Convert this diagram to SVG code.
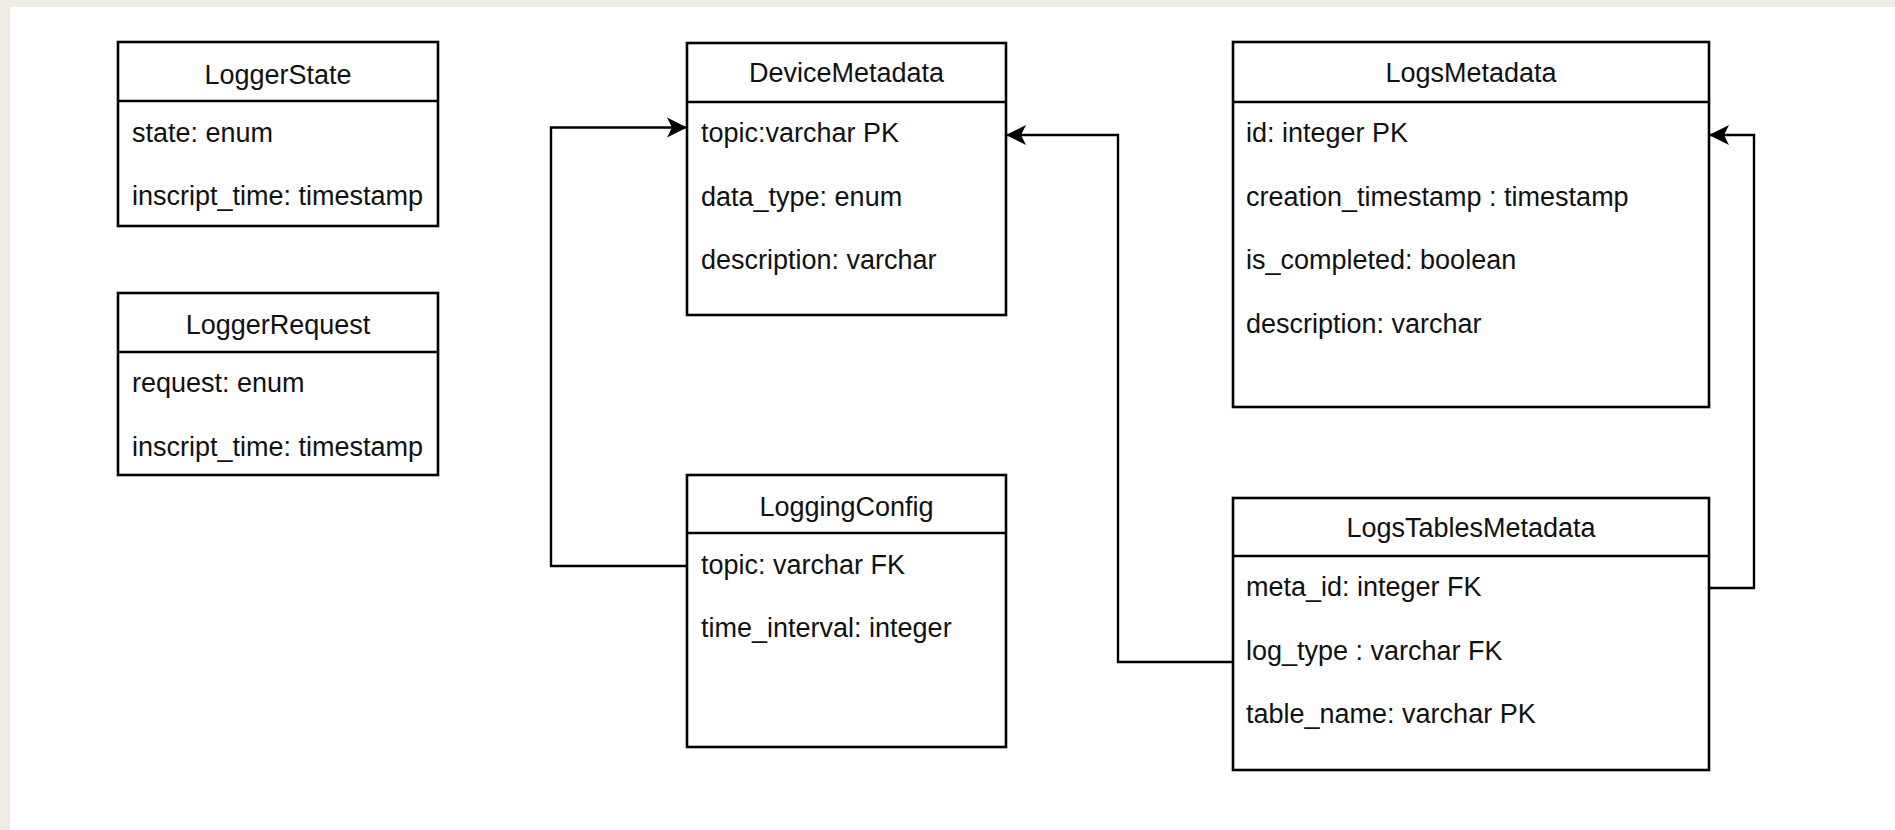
<svg xmlns="http://www.w3.org/2000/svg" width="1895" height="830" viewBox="0 0 1895 830">
  <style>
    .box { fill: #ffffff; stroke: #000000; stroke-width: 2.6; }
    .sep { stroke: #000000; stroke-width: 2.6; }
    .title { font-family: "Liberation Sans", Arial, sans-serif; font-size: 27px; fill: #111111; text-anchor: middle; }
    .row { font-family: "Liberation Sans", Arial, sans-serif; font-size: 27px; fill: #111111; }
    .conn { fill: none; stroke: #000000; stroke-width: 2.4; }
  </style>
  <defs>
    <marker id="arrow" markerUnits="userSpaceOnUse" viewBox="0 0 22 22" refX="21" refY="11" markerWidth="22" markerHeight="22" orient="auto">
      <path d="M21,11 L1,1 L6,11 L1,21 Z" fill="#000000"/>
    </marker>
  </defs>

  <rect x="0" y="0" width="1895" height="830" fill="#efece4"/>
  <rect x="10" y="7" width="1885" height="823" fill="#ffffff"/>

  <g id="connectors">
    <path class="conn" d="M687,566 H551 V127.5 H687" marker-end="url(#arrow)"/>
    <path class="conn" d="M1233,662 H1118 V135 H1006" marker-end="url(#arrow)"/>
    <path class="conn" d="M1709,588 H1754 V135 H1709" marker-end="url(#arrow)"/>
  </g>

  <g id="LoggerState">
    <rect class="box" x="118" y="42" width="320" height="184"/>
    <line class="sep" x1="118" y1="101" x2="438" y2="101"/>
    <text class="title" x="278" y="84">LoggerState</text>
    <text class="row" x="132" y="142">state: enum</text>
    <text class="row" x="132" y="205">inscript_time: timestamp</text>
  </g>

  <g id="LoggerRequest">
    <rect class="box" x="118" y="293" width="320" height="182"/>
    <line class="sep" x1="118" y1="352" x2="438" y2="352"/>
    <text class="title" x="278" y="334">LoggerRequest</text>
    <text class="row" x="132" y="392">request: enum</text>
    <text class="row" x="132" y="456">inscript_time: timestamp</text>
  </g>

  <g id="DeviceMetadata">
    <rect class="box" x="687" y="43" width="319" height="272"/>
    <line class="sep" x1="687" y1="102" x2="1006" y2="102"/>
    <text class="title" x="846.5" y="82">DeviceMetadata</text>
    <text class="row" x="701" y="142">topic:varchar PK</text>
    <text class="row" x="701" y="206">data_type: enum</text>
    <text class="row" x="701" y="269">description: varchar</text>
  </g>

  <g id="LoggingConfig">
    <rect class="box" x="687" y="475" width="319" height="272"/>
    <line class="sep" x1="687" y1="533" x2="1006" y2="533"/>
    <text class="title" x="846.5" y="516">LoggingConfig</text>
    <text class="row" x="701" y="574">topic: varchar FK</text>
    <text class="row" x="701" y="637">time_interval: integer</text>
  </g>

  <g id="LogsMetadata">
    <rect class="box" x="1233" y="42" width="476" height="365"/>
    <line class="sep" x1="1233" y1="102" x2="1709" y2="102"/>
    <text class="title" x="1471" y="82">LogsMetadata</text>
    <text class="row" x="1246" y="142">id: integer PK</text>
    <text class="row" x="1246" y="206">creation_timestamp : timestamp</text>
    <text class="row" x="1246" y="269">is_completed: boolean</text>
    <text class="row" x="1246" y="333">description: varchar</text>
  </g>

  <g id="LogsTablesMetadata">
    <rect class="box" x="1233" y="498" width="476" height="272"/>
    <line class="sep" x1="1233" y1="556" x2="1709" y2="556"/>
    <text class="title" x="1471" y="537">LogsTablesMetadata</text>
    <text class="row" x="1246" y="596">meta_id: integer FK</text>
    <text class="row" x="1246" y="660">log_type : varchar FK</text>
    <text class="row" x="1246" y="723">table_name: varchar PK</text>
  </g>
</svg>
